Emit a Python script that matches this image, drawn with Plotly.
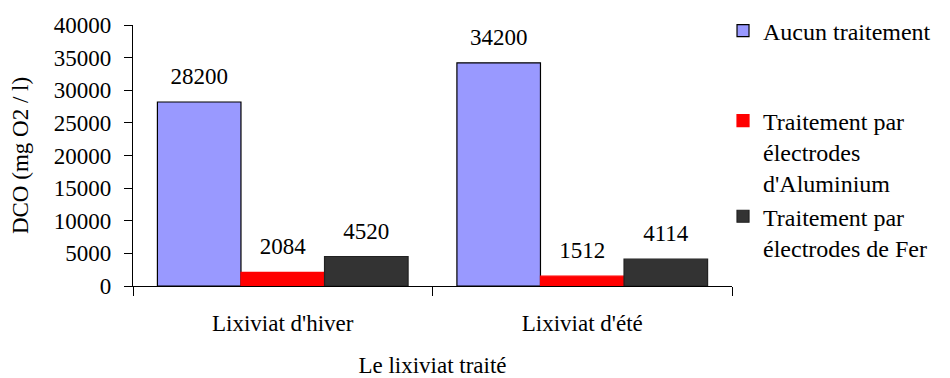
import plotly.graph_objects as go

# DCO measured on the two leachates, raw and after electrocoagulation
categories = ["Lixiviat d'hiver", "Lixiviat d'été"]
series_names = [
    "Aucun traitement",
    "Traitement par<br>électrodes<br>d'Aluminium",
    "Traitement par<br>électrodes de Fer",
]
aucun_traitement = [28200, 34200]
electrodes_aluminium = [2084, 1512]
electrodes_fer = [4520, 4114]
y_ticks = [0, 5000, 10000, 15000, 20000, 25000, 30000, 35000, 40000]

series_values = [aucun_traitement, electrodes_aluminium, electrodes_fer]
fill_colors = ["#9999FF", "#FF0000", "#333333"]
line_colors = ["#000000", "#FF0000", "#222222"]
legend_ids = ["legend", "legend2", "legend3"]
legend_tops = [1.063, 0.718, 0.352]

FONT = "Liberation Serif"

fig = go.Figure()
for i, (name, vals) in enumerate(zip(series_names, series_values)):
    fig.add_trace(go.Bar(
        name=name,
        x=categories,
        y=vals,
        offsetgroup=str(i),
        alignmentgroup="g",
        legend=legend_ids[i],
        marker=dict(color=fill_colors[i], line=dict(color=line_colors[i], width=1.2)),
    ))

# value labels above each bar, aligned with the grouped bars
for i, vals in enumerate(series_values):
    fig.add_trace(go.Scatter(
        x=categories,
        y=vals,
        mode="markers+text",
        text=[str(v) for v in vals],
        textposition="top center",
        textfont=dict(family=FONT, size=23, color="#000000"),
        marker=dict(size=18, opacity=0),
        offsetgroup=str(i),
        alignmentgroup="g",
        showlegend=False,
        hoverinfo="skip",
        cliponaxis=False,
    ))

legend_style = dict(
    x=0.985, xanchor="left",
    yanchor="top",
    valign="top",
    font=dict(family=FONT, size=24, color="#000000"),
    itemwidth=30,
    maxheight=400,
    bgcolor="rgba(0,0,0,0)",
)

fig.update_layout(
    width=950,
    height=378,
    margin=dict(l=133, r=218, t=25, b=92, autoexpand=False),
    paper_bgcolor="white",
    plot_bgcolor="white",
    barmode="group",
    scattermode="group",
    bargap=0.163,
    bargroupgap=0,
    scattergap=0.163,
    font=dict(family=FONT, size=23, color="#000000"),
    legend=dict(legend_style, y=legend_tops[0]),
    legend2=dict(legend_style, y=legend_tops[1]),
    legend3=dict(legend_style, y=legend_tops[2]),
    showlegend=True,
)

fig.update_xaxes(
    showline=True, linecolor="#000000", linewidth=1.2,
    ticks="outside", tickson="boundaries", ticklen=9, tickcolor="#000000",
    showgrid=False, zeroline=False,
    tickfont=dict(family=FONT, size=23),
    ticklabelstandoff=16,
    title=dict(text="Le lixiviat traité", font=dict(family=FONT, size=23), standoff=26),
)
fig.update_yaxes(
    range=[0, 40000],
    tickvals=y_ticks,
    ticktext=[str(t) for t in y_ticks],
    showline=True, linecolor="#000000", linewidth=1.2,
    ticks="outside", ticklen=8, tickcolor="#000000",
    showgrid=False, zeroline=False,
    tickfont=dict(family=FONT, size=23),
    ticklabelstandoff=8,
    title=dict(text="DCO (mg O2 / l)", font=dict(family=FONT, size=23), standoff=18),
)

fig.write_html("out.html")
